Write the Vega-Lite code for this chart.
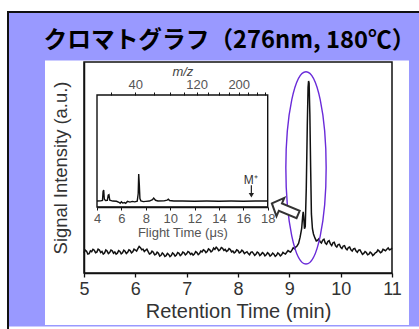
{
 "$schema": "https://vega.github.io/schema/vega-lite/v6.json",
 "width": 308,
 "height": 211,
 "autosize": {"type": "none"},
 "padding": {"left": 84, "top": 62, "right": 27, "bottom": 56},
 "background": "white",
 "config": {
  "view": {"stroke": null},
  "font": "Liberation Sans",
  "axis": {"labelFont": "Liberation Sans", "titleFont": "Liberation Sans", "grid": false, "labelFlush": false, "labelOverlap": false, "domainColor": "#111", "tickColor": "#111", "titleFontWeight": "normal"}
 },
 "title": {"text": "クロマトグラフ（276nm, 180℃）", "font": "Noto Sans CJK JP", "fontSize": 23.7, "fontWeight": "bold", "color": "#000", "anchor": "middle", "frame": "group", "baseline": "alphabetic", "offset": -60.5, "dx": -8.5, "zindex": 2},
 "datasets": {
  "main": [
   {"t": 5.000, "v": 9.6}, {"t": 5.025, "v": 10.8}, {"t": 5.050, "v": 10.3}, {"t": 5.075, "v": 9.0}, {"t": 5.100, "v": 9.2}, {"t": 5.125, "v": 10.5}, {"t": 5.150, "v": 10.1}, {"t": 5.175, "v": 11.2}, {"t": 5.200, "v": 10.8}, {"t": 5.225, "v": 9.6},
   {"t": 5.250, "v": 9.9}, {"t": 5.275, "v": 11.3}, {"t": 5.300, "v": 10.9}, {"t": 5.325, "v": 9.7}, {"t": 5.350, "v": 10.2}, {"t": 5.375, "v": 9.0}, {"t": 5.400, "v": 9.5}, {"t": 5.425, "v": 10.9}, {"t": 5.450, "v": 10.4}, {"t": 5.475, "v": 9.2},
   {"t": 5.500, "v": 9.7}, {"t": 5.525, "v": 10.9}, {"t": 5.550, "v": 10.5}, {"t": 5.575, "v": 9.4}, {"t": 5.600, "v": 10.0}, {"t": 5.625, "v": 8.9}, {"t": 5.650, "v": 9.4}, {"t": 5.675, "v": 10.6}, {"t": 5.700, "v": 10.2}, {"t": 5.725, "v": 9.1},
   {"t": 5.750, "v": 9.6}, {"t": 5.775, "v": 10.8}, {"t": 5.800, "v": 10.3}, {"t": 5.825, "v": 9.2}, {"t": 5.850, "v": 9.8}, {"t": 5.875, "v": 11.0}, {"t": 5.900, "v": 10.6}, {"t": 5.925, "v": 9.5}, {"t": 5.950, "v": 10.0}, {"t": 5.975, "v": 11.3},
   {"t": 6.000, "v": 10.9}, {"t": 6.025, "v": 10.4}, {"t": 6.050, "v": 11.5}, {"t": 6.075, "v": 12.6}, {"t": 6.100, "v": 12.0}, {"t": 6.125, "v": 11.0}, {"t": 6.150, "v": 11.3}, {"t": 6.175, "v": 10.2}, {"t": 6.200, "v": 10.8}, {"t": 6.225, "v": 11.3},
   {"t": 6.250, "v": 10.1}, {"t": 6.275, "v": 9.0}, {"t": 6.300, "v": 9.3}, {"t": 6.325, "v": 10.4}, {"t": 6.350, "v": 9.9}, {"t": 6.375, "v": 8.6}, {"t": 6.400, "v": 8.8}, {"t": 6.425, "v": 9.9}, {"t": 6.450, "v": 9.4}, {"t": 6.475, "v": 8.0},
   {"t": 6.500, "v": 8.4}, {"t": 6.525, "v": 9.5}, {"t": 6.550, "v": 8.9}, {"t": 6.575, "v": 7.8}, {"t": 6.600, "v": 8.2}, {"t": 6.625, "v": 9.3}, {"t": 6.650, "v": 8.8}, {"t": 6.675, "v": 7.8}, {"t": 6.700, "v": 8.3}, {"t": 6.725, "v": 9.5},
   {"t": 6.750, "v": 9.0}, {"t": 6.775, "v": 8.0}, {"t": 6.800, "v": 8.5}, {"t": 6.825, "v": 9.7}, {"t": 6.850, "v": 9.3}, {"t": 6.875, "v": 8.2}, {"t": 6.900, "v": 8.7}, {"t": 6.925, "v": 9.9}, {"t": 6.950, "v": 9.6}, {"t": 6.975, "v": 8.6},
   {"t": 7.000, "v": 9.1}, {"t": 7.025, "v": 10.2}, {"t": 7.050, "v": 9.8}, {"t": 7.075, "v": 8.8}, {"t": 7.100, "v": 9.3}, {"t": 7.125, "v": 8.5}, {"t": 7.150, "v": 9.0}, {"t": 7.175, "v": 10.1}, {"t": 7.200, "v": 9.7}, {"t": 7.225, "v": 8.7},
   {"t": 7.250, "v": 9.2}, {"t": 7.275, "v": 10.4}, {"t": 7.300, "v": 10.0}, {"t": 7.325, "v": 11.0}, {"t": 7.350, "v": 10.6}, {"t": 7.375, "v": 9.7}, {"t": 7.400, "v": 10.2}, {"t": 7.425, "v": 11.4}, {"t": 7.450, "v": 11.0}, {"t": 7.475, "v": 10.0},
   {"t": 7.500, "v": 10.5}, {"t": 7.525, "v": 11.8}, {"t": 7.550, "v": 11.2}, {"t": 7.575, "v": 12.2}, {"t": 7.600, "v": 11.6}, {"t": 7.625, "v": 10.6}, {"t": 7.650, "v": 11.0}, {"t": 7.675, "v": 12.1}, {"t": 7.700, "v": 11.7}, {"t": 7.725, "v": 10.7},
   {"t": 7.750, "v": 11.2}, {"t": 7.775, "v": 10.2}, {"t": 7.800, "v": 10.6}, {"t": 7.825, "v": 11.6}, {"t": 7.850, "v": 11.1}, {"t": 7.875, "v": 10.0}, {"t": 7.900, "v": 10.4}, {"t": 7.925, "v": 9.5}, {"t": 7.950, "v": 10.0}, {"t": 7.975, "v": 11.0},
   {"t": 8.000, "v": 10.6}, {"t": 8.025, "v": 9.5}, {"t": 8.050, "v": 9.9}, {"t": 8.075, "v": 10.8}, {"t": 8.100, "v": 10.3}, {"t": 8.125, "v": 9.2}, {"t": 8.150, "v": 9.7}, {"t": 8.175, "v": 10.1}, {"t": 8.200, "v": 9.2}, {"t": 8.225, "v": 8.6},
   {"t": 8.250, "v": 9.8}, {"t": 8.275, "v": 10.0}, {"t": 8.300, "v": 9.3}, {"t": 8.325, "v": 8.4}, {"t": 8.350, "v": 8.9}, {"t": 8.375, "v": 9.9}, {"t": 8.400, "v": 9.5}, {"t": 8.425, "v": 8.3}, {"t": 8.450, "v": 8.8}, {"t": 8.475, "v": 9.7},
   {"t": 8.500, "v": 9.2}, {"t": 8.525, "v": 8.1}, {"t": 8.550, "v": 8.6}, {"t": 8.575, "v": 9.6}, {"t": 8.600, "v": 9.1}, {"t": 8.625, "v": 8.0}, {"t": 8.650, "v": 8.5}, {"t": 8.675, "v": 9.4}, {"t": 8.700, "v": 8.9}, {"t": 8.725, "v": 7.9},
   {"t": 8.750, "v": 8.4}, {"t": 8.775, "v": 9.5}, {"t": 8.800, "v": 9.0}, {"t": 8.825, "v": 8.1}, {"t": 8.850, "v": 8.6}, {"t": 8.875, "v": 9.8}, {"t": 8.900, "v": 9.3}, {"t": 8.925, "v": 9.0}, {"t": 8.950, "v": 9.8}, {"t": 8.975, "v": 10.6},
   {"t": 9.000, "v": 10.2}, {"t": 9.025, "v": 9.9}, {"t": 9.050, "v": 10.8}, {"t": 9.075, "v": 11.9}, {"t": 9.100, "v": 11.5}, {"t": 9.125, "v": 12.3}, {"t": 9.150, "v": 12.8}, {"t": 9.18, "v": 14.0}, {"t": 9.21, "v": 17.0}, {"t": 9.24, "v": 21.0},
   {"t": 9.26, "v": 27.0}, {"t": 9.27, "v": 29.0}, {"t": 9.28, "v": 26.5}, {"t": 9.295, "v": 21.0}, {"t": 9.31, "v": 22.0}, {"t": 9.33, "v": 40.0}, {"t": 9.35, "v": 70.0}, {"t": 9.365, "v": 88.0}, {"t": 9.375, "v": 91.0}, {"t": 9.385, "v": 90.0},
   {"t": 9.40, "v": 75.0}, {"t": 9.415, "v": 50.0}, {"t": 9.43, "v": 28.0}, {"t": 9.45, "v": 21.0}, {"t": 9.47, "v": 18.5}, {"t": 9.50, "v": 16.5}, {"t": 9.525, "v": 15.2}, {"t": 9.55, "v": 15.5}, {"t": 9.575, "v": 16.2}, {"t": 9.60, "v": 14.8},
   {"t": 9.625, "v": 14.2}, {"t": 9.65, "v": 15.5}, {"t": 9.675, "v": 16.0}, {"t": 9.70, "v": 14.2}, {"t": 9.725, "v": 13.6}, {"t": 9.75, "v": 14.9}, {"t": 9.775, "v": 15.3}, {"t": 9.80, "v": 13.8}, {"t": 9.825, "v": 13.0}, {"t": 9.85, "v": 14.3},
   {"t": 9.875, "v": 14.6}, {"t": 9.90, "v": 12.9}, {"t": 9.925, "v": 12.3}, {"t": 9.95, "v": 13.4}, {"t": 9.975, "v": 13.6}, {"t": 10.00, "v": 12.2}, {"t": 10.025, "v": 11.6}, {"t": 10.05, "v": 12.8}, {"t": 10.075, "v": 13.0}, {"t": 10.10, "v": 11.6},
   {"t": 10.125, "v": 11.0}, {"t": 10.15, "v": 12.0}, {"t": 10.175, "v": 12.3}, {"t": 10.20, "v": 11.0}, {"t": 10.225, "v": 10.4}, {"t": 10.25, "v": 11.4}, {"t": 10.275, "v": 11.6}, {"t": 10.30, "v": 10.4}, {"t": 10.325, "v": 9.8}, {"t": 10.35, "v": 10.8},
   {"t": 10.375, "v": 11.0}, {"t": 10.40, "v": 9.9}, {"t": 10.425, "v": 8.8}, {"t": 10.45, "v": 9.3}, {"t": 10.475, "v": 10.2}, {"t": 10.50, "v": 9.7}, {"t": 10.525, "v": 8.6}, {"t": 10.55, "v": 8.9}, {"t": 10.575, "v": 9.9}, {"t": 10.60, "v": 9.4},
   {"t": 10.625, "v": 8.3}, {"t": 10.65, "v": 8.8}, {"t": 10.675, "v": 9.6}, {"t": 10.70, "v": 9.9}, {"t": 10.725, "v": 10.9}, {"t": 10.75, "v": 10.4}, {"t": 10.775, "v": 9.6}, {"t": 10.80, "v": 10.0}, {"t": 10.825, "v": 11.2}, {"t": 10.85, "v": 10.9},
   {"t": 10.875, "v": 10.5}, {"t": 10.90, "v": 11.3}, {"t": 10.925, "v": 11.9}, {"t": 10.95, "v": 11.0}, {"t": 10.975, "v": 11.2}, {"t": 11.00, "v": 11.8}
  ],
  "tof": [
   {"t": 4.0, "v": 5.3}, {"t": 4.3, "v": 5.5}, {"t": 4.45, "v": 5.8}, {"t": 4.5, "v": 14.0}, {"t": 4.55, "v": 15.2}, {"t": 4.6, "v": 7.0}, {"t": 4.7, "v": 5.8}, {"t": 4.85, "v": 6.0}, {"t": 4.92, "v": 10.5}, {"t": 4.98, "v": 11.0},
   {"t": 5.05, "v": 6.0}, {"t": 5.3, "v": 5.3}, {"t": 5.6, "v": 5.1}, {"t": 5.8, "v": 4.2}, {"t": 5.9, "v": 3.4}, {"t": 6.0, "v": 4.6}, {"t": 6.1, "v": 3.5}, {"t": 6.25, "v": 4.0}, {"t": 6.35, "v": 3.3}, {"t": 6.5, "v": 5.0},
   {"t": 6.7, "v": 4.4}, {"t": 6.9, "v": 5.0}, {"t": 7.1, "v": 4.6}, {"t": 7.3, "v": 5.2}, {"t": 7.38, "v": 12.0}, {"t": 7.42, "v": 29.5}, {"t": 7.47, "v": 20.0}, {"t": 7.52, "v": 7.5}, {"t": 7.6, "v": 5.5}, {"t": 7.8, "v": 4.8},
   {"t": 8.0, "v": 5.0}, {"t": 8.3, "v": 5.3}, {"t": 8.55, "v": 6.5}, {"t": 8.65, "v": 8.0}, {"t": 8.8, "v": 6.0}, {"t": 9.0, "v": 5.4}, {"t": 9.5, "v": 5.5}, {"t": 9.75, "v": 6.2}, {"t": 9.85, "v": 7.0}, {"t": 9.95, "v": 5.8},
   {"t": 10.3, "v": 5.3}, {"t": 11.0, "v": 5.4}, {"t": 12.0, "v": 5.2}, {"t": 13.0, "v": 5.3}, {"t": 14.0, "v": 5.2}, {"t": 15.0, "v": 5.3}, {"t": 16.0, "v": 5.2}, {"t": 17.0, "v": 5.3}, {"t": 18.0, "v": 5.3}
  ],
  "mz": [{"mz": 40}]
 },
 "layer": [
  {"layer": [
   {"data": {"values": [{}]},
    "mark": {"type": "rect", "fill": "#9999ff", "clip": false},
    "encoding": {
     "x": {"datum": 3.5195, "type": "quantitative", "scale": {"domain": [5, 11], "nice": false, "zero": false}},
     "x2": {"datum": 11.74},
     "y": {"datum": 123.7, "type": "quantitative", "scale": {"domain": [0, 100], "nice": false, "zero": false}},
     "y2": {"datum": -25.355}
    }},
   {"data": {"values": [{}]},
    "mark": {"type": "rect", "fillOpacity": 0, "stroke": "#111", "strokeWidth": 2, "clip": false},
    "encoding": {
     "x": {"datum": 3.5195, "type": "quantitative"},
     "x2": {"datum": 11.8},
     "y": {"datum": 123.7, "type": "quantitative"},
     "y2": {"datum": -29.4}
    }},
   {"data": {"values": [{}]},
    "mark": {"type": "rect", "fill": "white", "clip": false},
    "encoding": {
     "x": {"datum": 4.2403, "type": "quantitative"},
     "x2": {"datum": 11.331},
     "y": {"datum": 100.71, "type": "quantitative"},
     "y2": {"datum": -24.64}
    }},
   {"data": {"values": [{}]},
    "mark": {"type": "rect", "fillOpacity": 0, "stroke": "#111", "strokeWidth": 1.5},
    "encoding": {
     "x": {"datum": 5, "type": "quantitative"},
     "x2": {"datum": 11},
     "y": {"datum": 0, "type": "quantitative"},
     "y2": {"datum": 100}
    }},
   {"data": {"name": "main"},
    "mark": {"type": "line", "color": "#111", "strokeWidth": 1.5},
    "encoding": {
     "x": {"field": "t", "type": "quantitative", "scale": {"domain": [5, 11], "nice": false, "zero": false},
      "axis": {"orient": "bottom", "zindex": 1, "values": [5, 5.5, 6, 6.5, 7, 7.5, 8, 8.5, 9, 9.5, 10, 10.5, 11], "labelExpr": "datum.value % 1 === 0 ? format(datum.value, 'd') : ''", "tickSize": 4, "tickWidth": 1.3, "domainWidth": 1.5, "labelFontSize": 18, "labelColor": "#333", "labelPadding": 3, "title": "Retention Time (min)", "titleFontSize": 20, "titleColor": "#333", "titlePadding": 3}},
     "y": {"field": "v", "type": "quantitative", "scale": {"domain": [0, 100], "nice": false, "zero": false},
      "axis": {"orient": "left", "zindex": 1, "ticks": false, "labels": false, "domainWidth": 1.5, "title": "Signal Intensity (a.u.)", "titleFontSize": 18.4, "titleColor": "#333", "titlePadding": 14}}
    }},
   {"data": {"values": [{}]},
    "mark": {"type": "point", "shape": "M -0.2096 0 A 0.2096 1 0 1 1 0.2096 0 A 0.2096 1 0 1 1 -0.2096 0 Z", "size": 36979, "filled": false, "color": "#6a2bd9", "strokeWidth": 1.4, "opacity": 1},
    "encoding": {
     "x": {"datum": 9.3247, "type": "quantitative"},
     "y": {"datum": 49.83, "type": "quantitative"}
    }},
   {"data": {"values": [{}]},
    "mark": {"type": "point", "shape": "M -1 0 L -0.35 -0.7 L -0.35 -0.28 L 1 -0.28 L 1 0.28 L -0.35 0.28 L -0.35 0.7 Z", "size": 812, "angle": 23, "filled": true, "fill": "white", "stroke": "#333", "strokeWidth": 2, "opacity": 1},
    "encoding": {
     "x": {"datum": 8.9156, "type": "quantitative"},
     "y": {"datum": 30.33, "type": "quantitative"}
    }}
  ]},
  {"layer": [
   {"data": {"values": [{}]},
    "mark": {"type": "rect", "fill": "white", "stroke": "#111", "strokeWidth": 1.4},
    "encoding": {
     "x": {"datum": 4, "type": "quantitative", "scale": {"domain": [4, 18], "range": [13, 183.7], "nice": false, "zero": false}},
     "x2": {"datum": 18},
     "y": {"datum": 0, "type": "quantitative", "scale": {"domain": [0, 100], "range": [145, 33], "nice": false, "zero": false}, "axis": null},
     "y2": {"datum": 100}
    }},
   {"data": {"name": "tof"},
    "mark": {"type": "line", "color": "#111", "strokeWidth": 1.4},
    "encoding": {
     "x": {"field": "t", "type": "quantitative", "scale": {"domain": [4, 18], "range": [13, 183.7], "nice": false, "zero": false},
      "axis": {"orient": "bottom", "zindex": 1, "offset": -66, "values": [4, 5, 6, 7, 8, 9, 10, 11, 12, 13, 14, 15, 16, 17, 18], "labelExpr": "datum.value % 2 === 0 ? format(datum.value, 'd') : ''", "tickSize": 3, "domainWidth": 1.3, "labelFontSize": 13, "labelColor": "#555", "labelPadding": 2, "title": "Flight Time (μs)", "titleFontSize": 13, "titleColor": "#555", "titlePadding": 1}},
     "y": {"field": "v", "type": "quantitative", "scale": {"domain": [0, 100], "range": [145, 33], "nice": false, "zero": false}, "axis": null}
    }},
   {"data": {"values": [{}]},
    "mark": {"type": "text", "text": "M⁺", "fontSize": 12, "color": "#333", "font": "Liberation Sans"},
    "encoding": {
     "x": {"datum": 16.6, "type": "quantitative"},
     "y": {"datum": 24, "type": "quantitative", "axis": null}
    }},
   {"data": {"values": [{}]},
    "mark": {"type": "rule", "color": "#222", "strokeWidth": 1.2},
    "encoding": {
     "x": {"datum": 16.66, "type": "quantitative"},
     "y": {"datum": 19.5, "type": "quantitative", "axis": null},
     "y2": {"datum": 10}
    }},
   {"data": {"values": [{}]},
    "mark": {"type": "point", "shape": "triangle-down", "size": 28, "filled": true, "color": "#222", "opacity": 1},
    "encoding": {
     "x": {"datum": 16.66, "type": "quantitative"},
     "y": {"datum": 10.5, "type": "quantitative", "axis": null}
    }}
  ]},
  {"data": {"name": "mz"},
   "mark": {"type": "point", "opacity": 0},
   "encoding": {
    "x": {"field": "mz", "type": "quantitative", "scale": {"type": "sqrt", "domain": [11.8, 266.7], "range": [13, 183.7], "nice": false, "zero": false},
     "axis": {"orient": "top", "zindex": 1, "offset": -33, "values": [20, 40, 60, 80, 100, 120, 140, 160, 180, 200, 220, 240, 260], "labelExpr": "(datum.value == 40 || datum.value == 120 || datum.value == 200) ? datum.label : ''", "tickSize": 3, "domain": false, "labelFontSize": 13, "labelColor": "#555", "labelPadding": 1, "title": "m/z", "titleFontSize": 13, "titleFontStyle": "italic", "titleColor": "#444", "titlePadding": 0}}
   }}
 ],
 "resolve": {"scale": {"x": "independent", "y": "independent"}, "axis": {"x": "independent", "y": "independent"}}
}
